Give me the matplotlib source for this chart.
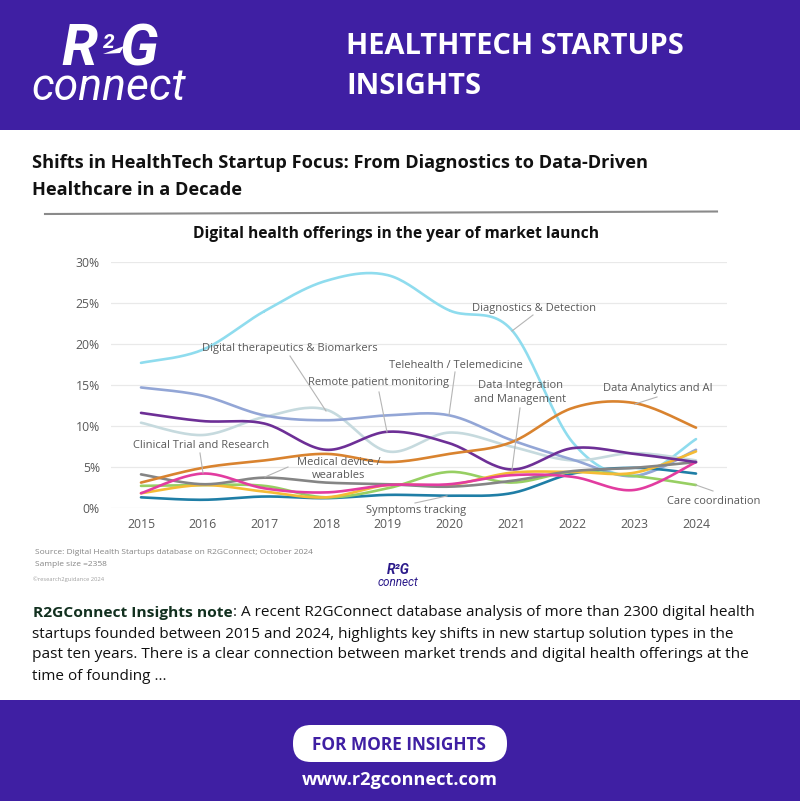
import numpy as np
import matplotlib
matplotlib.use("Agg")
import matplotlib.pyplot as plt
from matplotlib.patches import FancyBboxPatch, Rectangle, Polygon

plt.rcParams['font.family'] = ['Open Sans', 'DejaVu Sans']

years = [2015, 2016, 2017, 2018, 2019, 2020, 2021, 2022, 2023, 2024]
yticks = [0, 5, 10, 15, 20, 25, 30]

diagnostics = [17.7, 19.3, 24.0, 27.7, 28.4, 24.1, 21.8, 8.0, 3.9, 8.4]
light_blue = [10.4, 8.9, 11.1, 12.0, 6.9, 9.2, 7.5, 5.8, 6.7, 5.8]
telehealth = [14.7, 13.7, 11.3, 10.7, 11.3, 11.3, 8.3, 5.9, 3.9, 7.1]
remote = [11.6, 10.6, 10.3, 7.1, 9.3, 7.9, 4.7, 7.3, 6.6, 5.6]
analytics = [3.1, 4.9, 5.8, 6.6, 5.6, 6.6, 8.0, 12.2, 12.8, 9.8]
device = [4.1, 2.9, 3.7, 3.1, 2.9, 2.6, 3.3, 4.5, 4.9, 5.6]
integration = [1.8, 2.8, 2.0, 1.3, 2.8, 2.8, 4.3, 4.4, 4.3, 6.9]
clinical = [1.8, 4.2, 2.4, 1.9, 2.8, 2.9, 4.0, 3.8, 2.2, 5.6]
care = [2.7, 2.8, 2.7, 1.3, 2.4, 4.4, 3.1, 4.4, 3.9, 2.8]
symptoms = [1.3, 1.0, 1.4, 1.2, 1.6, 1.5, 1.8, 4.2, 4.9, 4.2]

series = [
    (diagnostics, "#8fdcee"),
    (light_blue, "#c6dade"),
    (telehealth, "#93a6d6"),
    (symptoms, "#1f7ea6"),
    (care, "#97cf63"),
    (integration, "#f5bb35"),
    (device, "#858585"),
    (clinical, "#e23ca0"),
    (remote, "#6d2f96"),
    (analytics, "#d9832f"),
]

labels = [
    ("Diagnostics & Detection", 534, 308, (512, 331), (533, 315)),
    ("Digital therapeutics & Biomarkers", 290, 348, (290, 356), (326, 411)),
    ("Telehealth / Telemedicine", 456, 365, (449, 415), (455, 372)),
    ("Remote patient monitoring", 379, 383, (387, 432), (379, 392)),
    ("Data Integration\nand Management", 520, 392.5, (512, 470), (520, 408)),
    ("Data Analytics and AI", 658, 389, (635, 404), (657, 397)),
    ("Clinical Trial and Research", 201, 446, (203, 473), (200, 453)),
    ("Medical device /\nwearables", 339, 469, (265, 477), (288, 467)),
    ("Symptoms tracking", 416, 511, (415, 503), (447, 496)),
    ("Care coordination", 714, 502, (696, 485), (713, 491)),
]


def smooth(xs, ys, n=24):
    # catmull-rom through the yearly values, like a smoothed excel line
    xs = np.array(xs, dtype=float)
    ys = np.array(ys, dtype=float)
    px = np.r_[xs[0], xs, xs[-1]]
    py = np.r_[ys[0], ys, ys[-1]]
    out_x, out_y = [], []
    t = np.linspace(0, 1, n)
    for i in range(1, len(px) - 2):
        for p, out in ((px, out_x), (py, out_y)):
            out.extend(0.5 * (2 * p[i] + (p[i + 1] - p[i - 1]) * t
                              + (2 * p[i - 1] - 5 * p[i] + 4 * p[i + 1] - p[i + 2]) * t ** 2
                              + (3 * p[i] - p[i - 1] - 3 * p[i + 1] + p[i + 2]) * t ** 3))
    return out_x, out_y


W, H = 800, 801
fig = plt.figure(figsize=(W / 100, H / 100), dpi=100)
bg = fig.add_axes([0, 0, 1, 1])
bg.set_xlim(0, W)
bg.set_ylim(H, 0)
bg.axis("off")

purple = "#3f1fa3"
bg.add_patch(Rectangle((0, 0), W, 130, color=purple, lw=0))
bg.add_patch(Rectangle((0, 700), W, 101, color=purple, lw=0))

# logo
logo = dict(family="Roboto", style="italic", va="baseline")
bg.text(61, 65, "R", color="white", fontsize=42, weight="bold", **logo)
bg.text(103, 48, "2", color="white", fontsize=15, weight="bold", **logo)
bg.add_patch(Polygon([(103, 54), (124, 46), (120, 53)], color="white", lw=0))
bg.text(120, 65, "G", color="white", fontsize=42, weight="bold", **logo)
bg.text(31, 100, "connect", color="white", fontsize=32, **logo)

bg.text(346, 46, "HEALTHTECH STARTUPS", color="white", fontsize=20.9, weight="bold", va="center")
bg.text(346, 86, "INSIGHTS", color="white", fontsize=20.9, weight="bold", va="center")

bg.text(32, 163, "Shifts in HealthTech Startup Focus: From Diagnostics to Data-Driven", fontsize=13.15, weight="bold", color="#111111", va="center")
bg.text(32, 190, "Healthcare in a Decade", fontsize=13.15, weight="bold", color="#111111", va="center")
bg.plot([45, 717], [214, 211.5], color="#8a8a8a", lw=1.5)

bg.text(396, 234, "Digital health offerings in the year of market launch", fontsize=11.25, weight="bold", color="#111111", ha="center", va="center")

bg.text(35, 553, "Source: Digital Health Startups database on R2GConnect; October 2024", fontsize=6.05, color="#858585", va="center")
bg.text(35, 565, "Sample size =2358", fontsize=6.05, color="#858585", va="center")
bg.text(33, 579.5, "©research2guidance 2024", fontsize=4.15, color="#a0a0a0", va="center")
bg.text(398, 574, "R²G", fontsize=10, family="Roboto", weight="bold", style="italic", color="#2b1a8a", ha="center", va="baseline")
bg.text(398, 586, "connect", fontsize=8.5, family="Roboto", style="italic", color="#2b1a8a", ha="center", va="baseline")

bg.text(33, 613, "R2GConnect Insights note", fontsize=11.15, weight="bold", color="#12301f", va="center")
bg.text(233, 613, ": A recent R2GConnect database analysis of more than 2300 digital health", fontsize=11.0, color="#111111", va="center")
bg.text(32, 634, "startups founded between 2015 and 2024, highlights key shifts in new startup solution types in the", fontsize=11.0, color="#111111", va="center")
bg.text(32, 655, "past ten years. There is a clear connection between market trends and digital health offerings at the", fontsize=11.08, color="#111111", va="center")
bg.text(32, 677, "time of founding ...", fontsize=11.0, color="#111111", va="center")

bg.add_patch(FancyBboxPatch((293, 725), 214, 37, boxstyle="round,pad=0,rounding_size=18", fc="white", ec="none"))
bg.text(399, 745, "FOR MORE INSIGHTS", fontsize=12.4, weight="bold", color=purple, ha="center", va="center")
bg.text(399.5, 780, "www.r2gconnect.com", fontsize=13.1, weight="bold", color="white", ha="center", va="center")

# chart axes, 2015 sits at px 141, 2024 at px 696, 0% at 508, 30% at 262
x_per_px = 9 / (696 - 141)
left, right = 111, 727
ax = fig.add_axes([left / W, 1 - 508 / H, (right - left) / W, (508 - 262) / H])
ax.set_xlim(2015 - (141 - left) * x_per_px, 2024 + (right - 696) * x_per_px)
ax.set_ylim(0, 30)
ax.patch.set_alpha(0)
for s in ax.spines.values():
    s.set_visible(False)
ax.set_yticks(yticks)
ax.set_yticklabels([f"{v}%" for v in yticks])
ax.set_xticks(years)
ax.tick_params(length=0, labelsize=8.8, labelcolor="#595959", pad=7)
ax.tick_params(axis="y", pad=8)
ax.grid(axis="y", color="#e9e9e9", lw=0.9)
ax.set_axisbelow(True)

for vals, col in series:
    sx, sy = smooth(years, vals)
    ax.plot(sx, sy, color=col, lw=1.9, solid_capstyle="round")

# callout labels drawn in pixel coordinates on a top layer
top = fig.add_axes([0, 0, 1, 1])
top.set_xlim(0, W)
top.set_ylim(H, 0)
top.axis("off")
for name, x, y, a, b in labels:
    top.plot([a[0], b[0]], [a[1], b[1]], color="#b5b5b5", lw=0.8)
    top.text(x, y, name, fontsize=8.05, color="#595959", ha="center", va="center", linespacing=1.3)

fig.savefig("out.png", dpi=100)
